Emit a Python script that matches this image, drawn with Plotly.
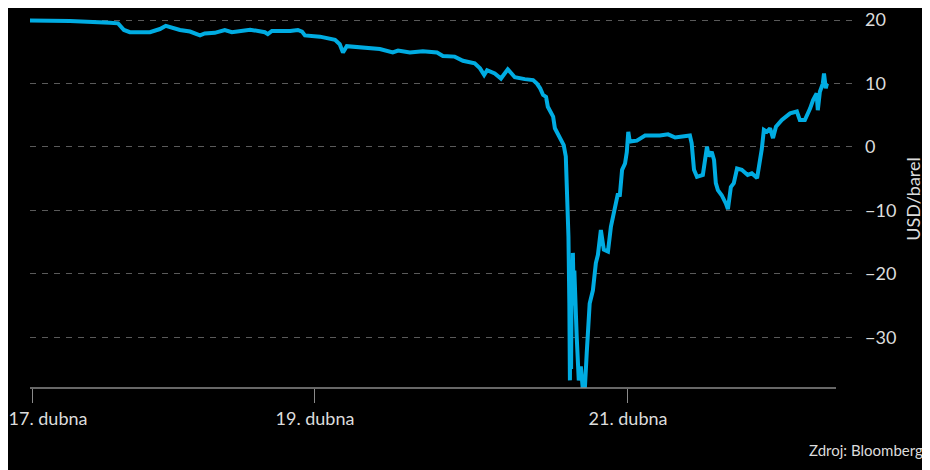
import plotly.graph_objects as go

# Trading-time index (hours on a compressed session axis) and WTI price, USD/barrel
t = [-0.5, 3.05, 6.45, 13.2, 14.6, 15.6, 16.6, 20.0, 21.7, 22.7, 24.25, 25.1, 26.8, 28.5, 29.3,
     31.0, 32.7, 33.9, 37.0, 39.5, 40.0, 40.7, 43.8, 45.1, 45.8, 46.3, 48.85, 50.5, 51.4, 52.2,
     52.75, 53.4, 55.6, 59.0, 61.2, 62.1, 64.1, 66.3, 68.7, 69.7, 71.7, 73.1, 75.1, 76.0, 76.7,
     77.2, 78.5, 79.55, 80.7, 81.9, 83.6, 85.0, 85.65, 86.2, 86.7, 87.2, 87.5, 88.0, 88.4, 88.7,
     89.2, 89.7, 90.2, 90.55, 90.75, 91.0, 91.15, 91.25, 91.35, 91.45, 91.55, 91.65, 91.75, 91.85,
     92.0, 92.1, 92.4, 92.75, 93.1, 93.45, 93.8, 94.1, 94.6, 95.15, 95.65, 96.0, 96.5, 97.0, 97.7,
     98.2, 98.9, 99.4, 99.7, 100.1, 100.6, 100.9, 101.15, 101.4, 101.75, 102.6, 104.0, 106.5, 107.9,
     109.1, 111.6, 111.9, 112.3, 112.8, 113.8, 114.15, 114.5, 114.8, 115.3, 115.7, 116.0, 116.35,
     117.0, 117.7, 118.05, 118.55, 119.05, 119.6, 120.4, 121.4, 122.1, 123.0, 123.5, 123.8, 124.15,
     124.65, 125.2, 125.7, 126.2, 127.2, 128.6, 129.75, 130.25, 131.1, 132.0, 132.5, 133.1, 133.3,
     133.65, 134.15, 134.35, 134.65, 134.85]
price = [19.95, 19.95, 19.85, 19.6, 19.5, 18.45, 18.1, 18.1, 18.6, 19.1, 18.7, 18.45, 18.2, 17.6, 17.9,
         18.0, 18.45, 18.1, 18.5, 18.1, 17.8, 18.3, 18.3, 18.45, 18.2, 17.6, 17.4, 17.1, 16.9, 16.2,
         14.9, 15.9, 15.7, 15.45, 14.9, 15.2, 14.9, 15.1, 14.9, 14.35, 14.25, 13.6, 13.2, 12.4, 11.35,
         12.1, 11.6, 10.8, 12.25, 11.0, 10.7, 10.55, 10.0, 9.25, 8.2, 7.9, 6.35, 5.3, 4.8, 2.95,
         2.15, 1.1, 0.3, -1.5, -6.3, -14.1, -24.6, -36.8, -21.0, -35.0, -19.0, -25.0, -16.7, -21.5,
         -19.5, -23.0, -29.9, -36.8, -34.6, -38.3, -37.8, -32.5, -24.7, -22.6, -18.3, -17.0, -13.1, -16.2, -16.5,
         -12.6, -9.9, -7.3, -7.8, -3.6, -2.6, -0.8, 2.4, 0.85, 0.9, 1.0, 1.8, 1.8, 2.0,
         1.5, 1.8, 0.6, -3.6, -4.7, -4.4, -1.5, 0.05, -1.5, -0.75, -2.05, -5.7, -6.8,
         -7.6, -8.9, -9.8, -6.3, -5.7, -3.4, -3.6, -4.4, -4.15, -4.9, -2.4, -0.3, 2.7,
         2.4, 2.95, 1.4, 3.2, 4.25, 5.3, 5.6, 4.25, 4.25, 6.1, 7.4, 8.45, 5.8,
         8.7, 10.0, 11.6, 9.25, 10.0]

first_tick_val = [0]
first_tick_text = ["17. dubna"]
tick_vals = [48.0, 101.1]
tick_text = ["19. dubna", "21. dubna"]
y_ticks = [20, 10, 0, -10, -20, -30]

LINE = "#00ace2"
TXT = "#dcdcdc"
FONT = "Lato"
X_RANGE = [-0.34, 139.1]

fig = go.Figure()
fig.add_trace(go.Scatter(x=t, y=price, mode="lines",
                         line=dict(color=LINE, width=4, shape="linear"),
                         hoverinfo="x+y", showlegend=False))
# same series bound to the overlay axis that carries the first date label (invisible)
fig.add_trace(go.Scatter(x=t, y=price, mode="lines", xaxis="x2", yaxis="y",
                         line=dict(color="rgba(0,0,0,0)", width=0),
                         hoverinfo="skip", showlegend=False))

common_x = dict(range=X_RANGE, tickmode="array",
                showgrid=False, zeroline=False, showline=False, automargin=False,
                ticks="outside", ticklen=14, tickwidth=1, tickcolor="#8a8a8a",
                tickfont=dict(size=18, color=TXT, family=FONT))

fig.update_layout(
    width=922, height=462,
    paper_bgcolor="black", plot_bgcolor="black",
    margin=dict(l=22, r=78, t=2, b=82),
    font=dict(family=FONT, color=TXT, size=18),
    xaxis=dict(tickvals=tick_vals, ticktext=tick_text, **common_x),
    xaxis2=dict(tickvals=first_tick_val, ticktext=first_tick_text, overlaying="x", side="bottom",
                ticklabelshift=16, **common_x),
    yaxis=dict(range=[-38.0, 21.6], side="right", tickmode="array", tickvals=y_ticks,
               showgrid=True, gridcolor="#5a5a5a", gridwidth=1, griddash="6px,6px",
               zeroline=False, showline=False, ticks="", automargin=False,
               ticklabelstandoff=12,
               tickfont=dict(size=18, color=TXT, family=FONT),
               title=dict(text="USD/barel", font=dict(size=18, color=TXT, family=FONT), standoff=12)),
    shapes=[dict(type="line", xref="paper", yref="paper", x0=0, x1=(836 - 30) / 822, y0=0, y1=0,
                 line=dict(color="#8a8a8a", width=1.5))],
    annotations=[dict(text="Zdroj: Bloomberg", xref="paper", yref="paper", x=(917 - 22) / 822, y=-0.164,
                      xanchor="right", yanchor="middle", showarrow=False,
                      font=dict(size=15, color=TXT, family=FONT))],
)

fig.write_html("out.html")
